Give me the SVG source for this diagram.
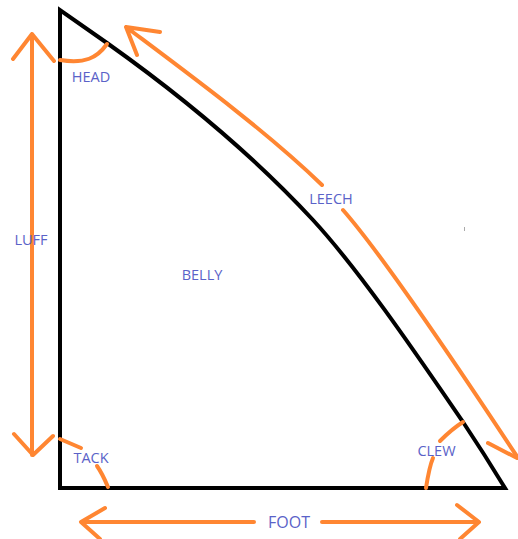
<svg xmlns="http://www.w3.org/2000/svg" width="518" height="539" viewBox="0 0 518 539">
<style>
.o{fill:none;stroke:#ff8632;stroke-width:4;stroke-linecap:round;stroke-linejoin:round}
.k{fill:none;stroke:#000;stroke-width:4;stroke-linecap:square;stroke-linejoin:miter}
.t{font-family:"Open Sans","Noto Sans",sans-serif;font-size:14.5px;fill:#5a62c8;text-anchor:middle}
</style>
<rect width="518" height="539" fill="#fff"/>
<g id="sail"><path class="k" d="M60 10V488H505C491 465 477 443 463 422C417 355 360 271 313 220C250 152 176 92 107 43Z"/></g>
<g id="connectors">
<path class="o" d="M32 455V34M13 59L32 34L54 61M14 434L33 455L53 436"/>
<path class="o" d="M126 27C190 75 265 130 322 185M343 210C385 258 460 370 518 458M137 55L126 27L160 32"/>
<path class="o" d="M488 443L517 458"/>
<path class="o" d="M82 522H254M322 522H477M105 508L81 522L100 539M457 505L479 522L460 539"/>
<path class="o" d="M60 60C85 64 97 58 107 44"/>
<path class="o" d="M60 439L81 448M97 466C102 473 105 480 108 487"/>
<path class="o" d="M426 488C428 475 430 465 433 458M440 441C447 434 455 427 463 422"/>
</g>
<g id="head"><text class="t" x="91" y="82">HEAD</text></g>
<g id="luff"><text class="t" x="31" y="245">LUFF</text></g>
<g id="leech"><text class="t" x="331" y="204">LEECH</text></g>
<g id="belly"><text class="t" x="202" y="280">BELLY</text></g>
<g id="tack"><text class="t" x="91" y="463">TACK</text></g>
<g id="clew"><text class="t" x="436.500" y="456">CLEW</text></g>
<g id="foot"><text class="t" x="289" y="528" style="font-size:16px">FOOT</text></g>
<rect x="464" y="227" width="1" height="4" fill="#aaa"/>
</svg>
